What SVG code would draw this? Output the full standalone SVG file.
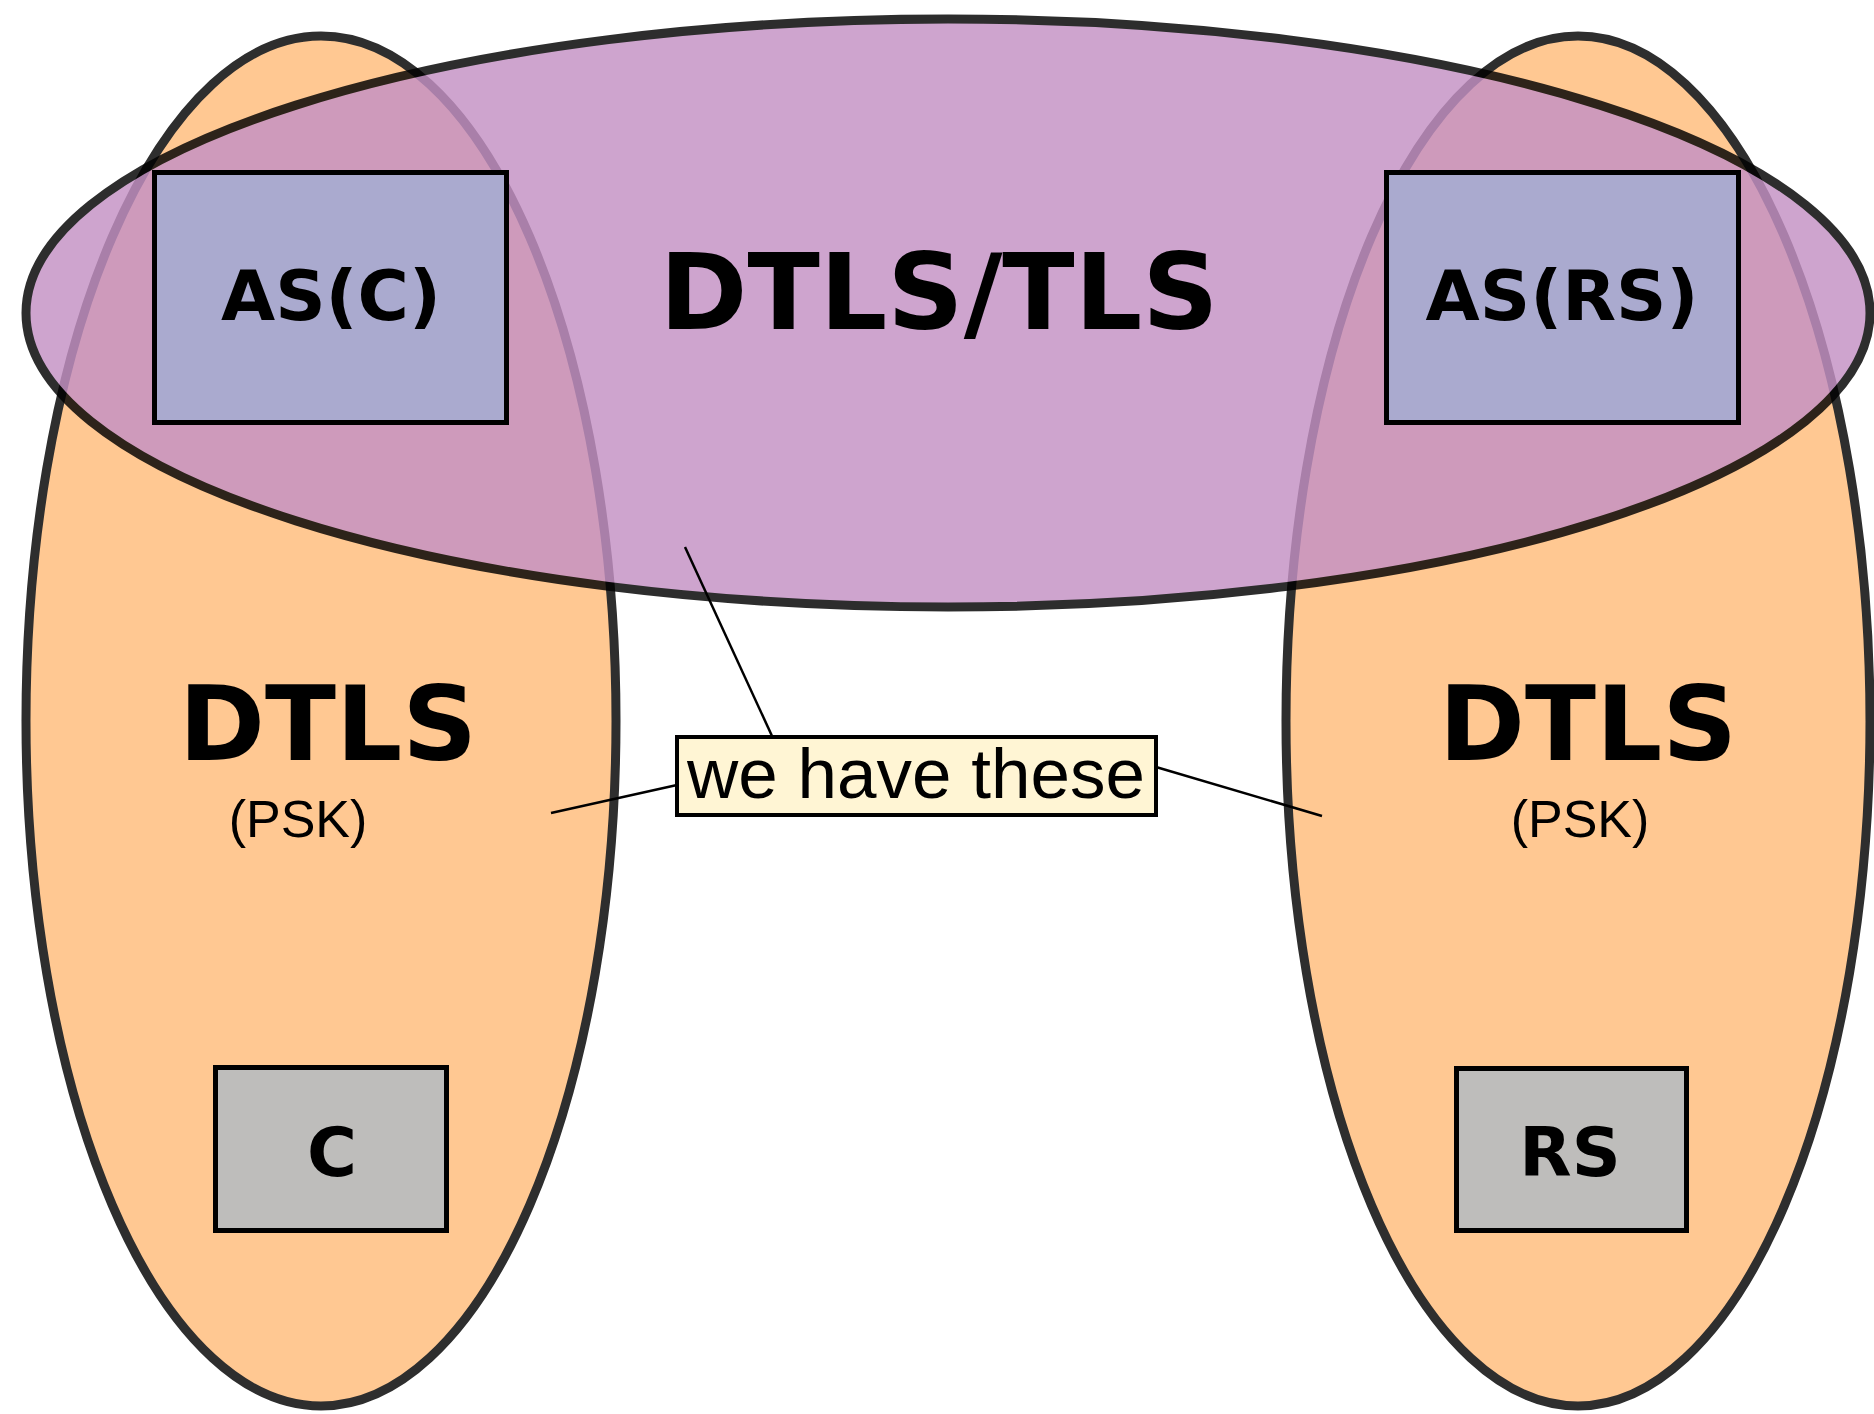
<svg xmlns="http://www.w3.org/2000/svg" width="1874" height="1414" viewBox="0 0 1874 1414">
<style>
.orange{fill:#ffc892;stroke:#2e2e2e;stroke-width:9}
.purple{fill:#c491c4;stroke:#000;stroke-width:9;opacity:0.82}
.asbox{fill:#aaaacf;stroke:#000;stroke-width:5}
.dev{fill:#bebdbb;stroke:#000;stroke-width:5}
.bold{font-family:"DejaVu Sans",Verdana,sans-serif;font-weight:bold;fill:#000;text-anchor:middle}
.reg{font-family:"Liberation Sans",Arial,sans-serif;fill:#000;text-anchor:middle}
.conn{stroke:#000;stroke-width:2.5;fill:none}
</style>
<rect width="1874" height="1414" fill="#fff"/>
<g id="dtls-c">
<ellipse class="orange" cx="321" cy="721" rx="295" ry="685"/>
</g>
<g id="dtls-rs">
<ellipse class="orange" cx="1578" cy="721" rx="292" ry="685"/>
</g>
<g id="dtls-tls">
<ellipse class="purple" cx="948" cy="313" rx="922" ry="294"/>
<text class="bold" x="939" y="329" font-size="106">DTLS/TLS</text>
</g>
<g id="as-c">
<rect class="asbox" x="154.5" y="172.5" width="352" height="250"/>
<text class="bold" x="331" y="320" font-size="70">AS(C)</text>
</g>
<g id="as-rs">
<rect class="asbox" x="1386.5" y="172.5" width="352" height="250"/>
<text class="bold" x="1562" y="320" font-size="70">AS(RS)</text>
</g>
<g id="dtls-c-label">
<text class="bold" x="328" y="760" font-size="104">DTLS</text>
<text class="reg" x="298" y="837" font-size="52">(PSK)</text>
</g>
<g id="dtls-rs-label">
<text class="bold" x="1588" y="760" font-size="104">DTLS</text>
<text class="reg" x="1580" y="837" font-size="52">(PSK)</text>
</g>
<g id="c">
<rect class="dev" x="215.5" y="1067.5" width="231" height="163"/>
<text class="bold" x="332" y="1176" font-size="68">C</text>
</g>
<g id="rs">
<rect class="dev" x="1456.5" y="1068.5" width="230" height="162"/>
<text class="bold" x="1570" y="1176" font-size="68">RS</text>
</g>
<g id="connectors">
<line class="conn" x1="685" y1="547" x2="772" y2="736"/>
<line class="conn" x1="551" y1="813" x2="677" y2="785"/>
<line class="conn" x1="1156" y1="767" x2="1322" y2="816"/>
</g>
<g id="note">
<rect x="677" y="737" width="479" height="78" fill="#fff5d4" stroke="#000" stroke-width="4"/>
<text class="reg" x="916" y="798" font-size="71">we have these</text>
</g>
</svg>
